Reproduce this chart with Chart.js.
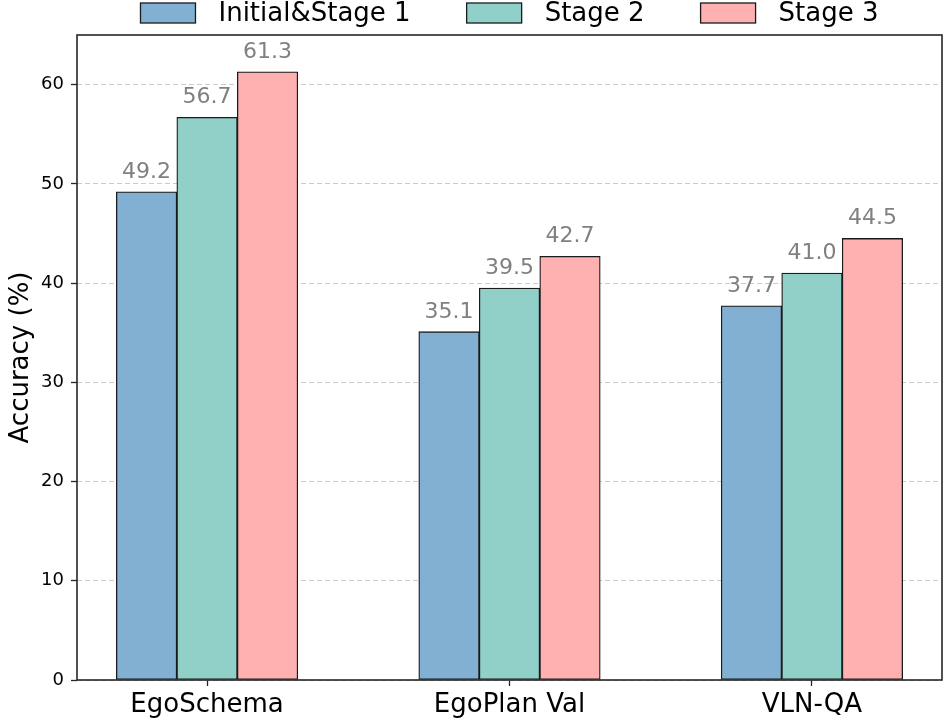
<!DOCTYPE html>
<html lang="en">
<head>
    <meta charset="UTF-8">
    <title>Accuracy by stage</title>
    <script src="https://cdn.jsdelivr.net/npm/chart.js"></script>
    <style>
        html, body {
            margin: 0;
            padding: 0;
            background: #ffffff;
        }
        .chart-box {
            width: 947px;
            height: 721px;
        }
    </style>
</head>
<body>
    <div class="chart-box">
        <canvas id="accChart" width="947" height="721"></canvas>
    </div>

    <script>
        // data
        const categories = ['EgoSchema', 'EgoPlan Val', 'VLN-QA'];
        const seriesNames = ['Initial&Stage 1', 'Stage 2', 'Stage 3'];
        const stage1 = [49.2, 35.1, 37.7];
        const stage2 = [56.7, 39.5, 41.0];
        const stage3 = [61.3, 42.7, 44.5];
        const yTicks = [0, 10, 20, 30, 40, 50, 60];

        const colors = ['#82B0D2', '#91D0C8', '#FFB1B1'];
        const FONT = "'DejaVu Sans', sans-serif";

        const allSeries = [stage1, stage2, stage3];
        const datasets = allSeries.map(function(vals, k) {
            return {
                label: seriesNames[k],
                data: vals.map(function(v, i) { return { x: i + (k - 1) * 0.2, y: v }; }),
                backgroundColor: colors[k],
                borderColor: '#1a1a1a',
                borderWidth: 1.3,
                borderSkipped: false,
                grouped: false,
                categoryPercentage: 1,
                barPercentage: 1
            };
        });

        // value labels above bars
        const valueLabels = {
            id: 'valueLabels',
            afterDatasetsDraw(chart) {
                const ctx = chart.ctx;
                ctx.save();
                ctx.font = '22px ' + FONT;
                ctx.fillStyle = '#808080';
                ctx.textAlign = 'center';
                ctx.textBaseline = 'alphabetic';
                chart.data.datasets.forEach(function(ds, k) {
                    chart.getDatasetMeta(k).data.forEach(function(bar, i) {
                        ctx.fillText(allSeries[k][i].toFixed(1), bar.x, bar.y - 14);
                    });
                });
                ctx.restore();
            }
        };

        // axes box like matplotlib spines
        const frame = {
            id: 'frame',
            afterDatasetsDraw(chart) {
                const a = chart.chartArea;
                const ctx = chart.ctx;
                ctx.save();
                ctx.strokeStyle = '#262626';
                ctx.lineWidth = 1.6;
                ctx.strokeRect(a.left, a.top, a.right - a.left, a.bottom - a.top);
                ctx.restore();
            }
        };

        // legend row above the axes
        const topLegend = {
            id: 'topLegend',
            afterDraw(chart) {
                const ctx = chart.ctx;
                const a = chart.chartArea;
                ctx.save();
                ctx.font = '26px ' + FONT;
                const boxW = 55, boxH = 20, gapText = 23, gapItem = 56;
                const widths = seriesNames.map(function(n) { return ctx.measureText(n).width; });
                let total = 0;
                widths.forEach(function(w) { total += boxW + gapText + w; });
                total += gapItem * (seriesNames.length - 1);
                let x = (a.left + a.right) / 2 - total / 2;
                const y = 3;
                seriesNames.forEach(function(name, k) {
                    ctx.fillStyle = colors[k];
                    ctx.fillRect(x, y, boxW, boxH);
                    ctx.strokeStyle = '#1a1a1a';
                    ctx.lineWidth = 1.3;
                    ctx.strokeRect(x, y, boxW, boxH);
                    ctx.fillStyle = '#000000';
                    ctx.textBaseline = 'middle';
                    ctx.textAlign = 'left';
                    ctx.fillText(name, x + boxW + gapText, y + boxH / 2 + 1);
                    x += boxW + gapText + widths[k] + gapItem;
                });
                ctx.restore();
            }
        };

        new Chart(document.getElementById('accChart'), {
            type: 'bar',
            data: { datasets: datasets },
            options: {
                responsive: false,
                animation: false,
                devicePixelRatio: 1,
                layout: { padding: { top: 35, right: 5, left: 0, bottom: 0 } },
                plugins: {
                    legend: { display: false },
                    tooltip: { enabled: false }
                },
                scales: {
                    x: {
                        type: 'linear',
                        offset: false,
                        min: -0.43,
                        max: 2.43,
                        afterBuildTicks: function(scale) {
                            scale.ticks = categories.map(function(c, i) { return { value: i }; });
                        },
                        afterFit: function(scale) { scale.height = 41; },
                        ticks: {
                            autoSkip: false,
                            maxRotation: 0,
                            padding: 4,
                            color: '#000000',
                            font: { family: FONT, size: 26 },
                            callback: function(v) { return categories[v]; }
                        },
                        grid: {
                            offset: false,
                            drawOnChartArea: false,
                            drawTicks: true,
                            tickLength: 6,
                            tickColor: '#262626',
                            tickWidth: 1.3
                        },
                        border: { display: false }
                    },
                    y: {
                        min: 0,
                        max: 65,
                        afterBuildTicks: function(scale) {
                            scale.ticks = yTicks.map(function(v) { return { value: v }; });
                        },
                        afterFit: function(scale) { scale.width = 77; },
                        ticks: {
                            autoSkip: false,
                            padding: 7,
                            color: '#000000',
                            font: { family: FONT, size: 18 }
                        },
                        grid: {
                            color: 'rgba(190,190,190,0.8)',
                            lineWidth: 1,
                            drawTicks: true,
                            tickLength: 6,
                            tickColor: '#262626',
                            tickWidth: 1.3
                        },
                        border: { display: false, dash: [5, 3] },
                        title: {
                            display: true,
                            text: 'Accuracy (%)',
                            color: '#000000',
                            font: { family: FONT, size: 26 },
                            padding: { top: 6, bottom: 0 }
                        }
                    }
                }
            },
            plugins: [valueLabels, frame, topLegend]
        });
    </script>
</body>
</html>
